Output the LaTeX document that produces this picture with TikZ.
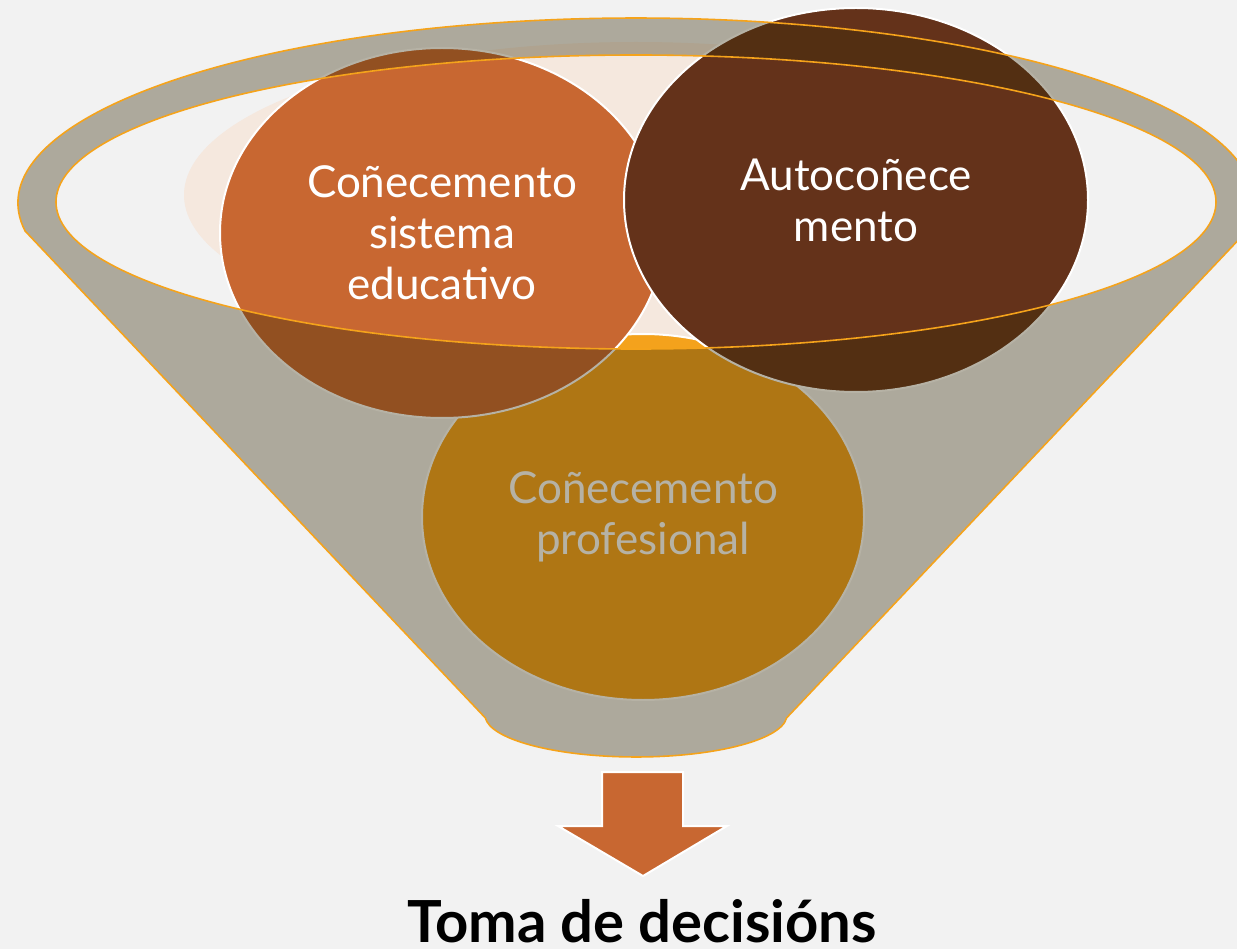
\documentclass[tikz,border=0pt]{standalone}
\usepackage{fontspec}
\setmainfont{Lato}
\usetikzlibrary{shapes.geometric}
\definecolor{bgc}{RGB}{242,242,242}
\definecolor{peachc}{RGB}{245,232,222}
\definecolor{orangec}{RGB}{200,103,49}
\definecolor{brownc}{RGB}{100,50,26}
\definecolor{goldc}{RGB}{244,162,28}
\definecolor{funnelc}{RGB}{53,42,6}
\definecolor{rimc}{RGB}{245,163,27}
\tikzset{
  bubble/.style={ellipse, draw=white, line width=2pt, inner sep=0pt, text=white,
    align=center, font=\fontsize{44}{51}\selectfont},
  funnelbody/.style={fill=funnelc, fill opacity=0.36, even odd rule},
  rim/.style={draw=rimc, line width=1.6pt},
  arrowshape/.style={fill=orangec, draw=white, line width=2pt, line join=miter}
}
\begin{document}
\begin{tikzpicture}[x=1pt,y=-1pt]
\useasboundingbox (0,0) rectangle (1237,949);
\clip (0,0) rectangle (1237,949);
\fill[bgc] (0,0) rectangle (1237,949);
% faint back circle
\fill[peachc] (636,195) ellipse [x radius=452, y radius=153];
% circles
\node[bubble, fill=goldc, minimum width=442pt, minimum height=366pt] (prof) at (643,517)
  {Coñecemento\\profesional};
\node[bubble, fill=orangec, minimum width=444pt, minimum height=370pt] (edu) at (442,233)
  {Coñecemento\\sistema\\educativo};
\node[bubble, fill=brownc, minimum width=464pt, minimum height=384pt] (auto) at (856,200)
  {Autocoñece\\mento};
% funnel
\path[funnelbody] (25.1,231.0)
  arc[start angle=171.3, end angle=368.7, x radius=618, y radius=185]
  -- (786.6,717.9)
  arc[start angle=4, end angle=176, x radius=151, y radius=42]
  -- cycle
  (636,202) ellipse [x radius=580, y radius=147];
\path[rim] (25.1,231.0)
  arc[start angle=171.3, end angle=368.7, x radius=618, y radius=185]
  -- (786.6,717.9)
  arc[start angle=4, end angle=176, x radius=151, y radius=42]
  -- cycle
  (636,202) ellipse [x radius=580, y radius=147];
% arrow
\path[arrowshape] (602,772) -- (683,772) -- (683,826) -- (727,826) -- (643,876)
  -- (558,826) -- (602,826) -- cycle;
\node[anchor=base, inner sep=0pt, font=\fontsize{58}{64}\selectfont\bfseries] (title) at (642,942)
  {Toma de decisións};
\end{tikzpicture}
\end{document}
